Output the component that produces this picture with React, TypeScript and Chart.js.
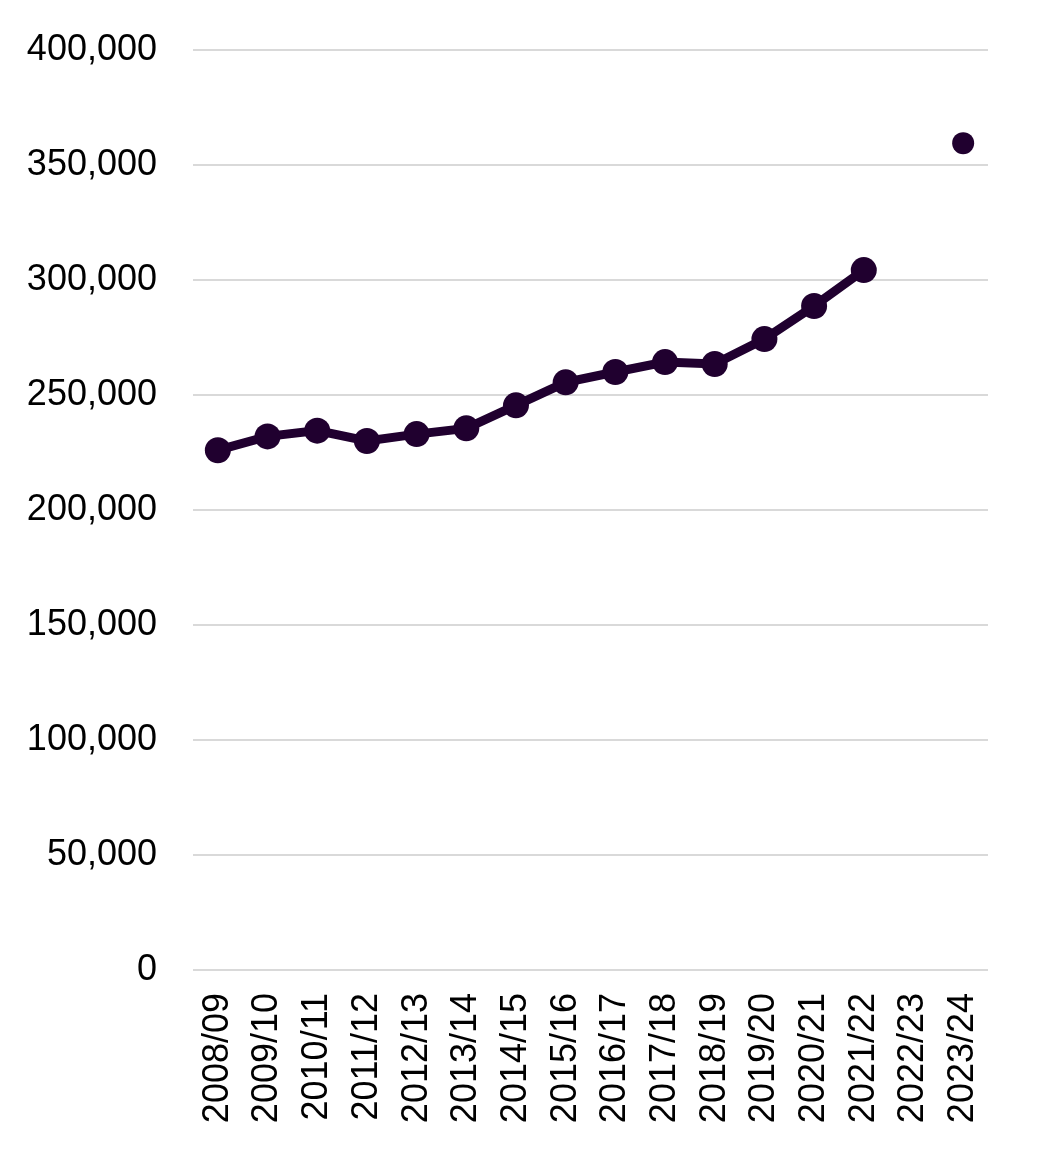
import React, { useEffect, useRef } from 'react';
import Chart from 'chart.js/auto';

// === Data ===
const YEARS = [
  '2008/09', '2009/10', '2010/11', '2011/12', '2012/13', '2013/14', '2014/15', '2015/16',
  '2016/17', '2017/18', '2018/19', '2019/20', '2020/21', '2021/22', '2022/23', '2023/24',
];

const VALUES: (number | null)[] = [
  226000, 232000, 234500, 230000, 233000, 235500, 245500, 255500,
  260000, 264300, 263500, 274300, 288700, 304300, null, 359500,
];

const POINT_SIZES = [13, 13, 13, 13, 13, 13, 13, 13, 13, 13, 13, 13, 13, 13, 13, 11];

const LINE_COLOR = '#20002f';
const FONT = { family: '"Liberation Sans", Arial, sans-serif', size: 36 };

const App: React.FC = () => {
  const canvasRef = useRef<HTMLCanvasElement>(null);

  useEffect(() => {
    if (!canvasRef.current) return;

    const chart = new Chart(canvasRef.current, {
      type: 'line',
      data: {
        labels: YEARS,
        datasets: [{
          data: VALUES,
          borderColor: LINE_COLOR,
          backgroundColor: LINE_COLOR,
          borderWidth: 9,
          pointRadius: POINT_SIZES,
          pointBorderWidth: 0,
          pointBackgroundColor: LINE_COLOR,
          spanGaps: false,
          tension: 0,
        }],
      },
      options: {
        animation: false,
        responsive: true,
        maintainAspectRatio: false,
        layout: { padding: { top: 42, right: 43, left: 0, bottom: 0 } },
        plugins: {
          legend: { display: false },
          tooltip: { enabled: false },
        },
        scales: {
          x: {
            offset: true,
            grid: { display: false, drawTicks: false },
            border: { display: false },
            ticks: {
              color: '#000',
              font: FONT,
              minRotation: 90,
              maxRotation: 90,
              padding: 23,
              autoSkip: false,
            },
            afterFit: (scale) => {
              scale.height = 177;
              scale.paddingLeft = 0;
              scale.paddingRight = 0;
            },
          },
          y: {
            min: 0,
            max: 400000,
            grid: { color: '#d9d9d9', lineWidth: 2, drawTicks: false },
            border: { display: false },
            ticks: {
              stepSize: 50000,
              color: '#000',
              font: FONT,
              padding: 36,
              callback: (v) => Number(v).toLocaleString('en-US'),
            },
            afterFit: (scale) => {
              scale.width = 185;
              scale.paddingTop = 0;
              scale.paddingBottom = 0;
            },
          },
        },
      },
    });

    return () => chart.destroy();
  }, []);

  return (
    <div style={{ position: 'relative', width: 1023, height: 1139 }}>
      <canvas ref={canvasRef} />
    </div>
  );
};

export default App;
